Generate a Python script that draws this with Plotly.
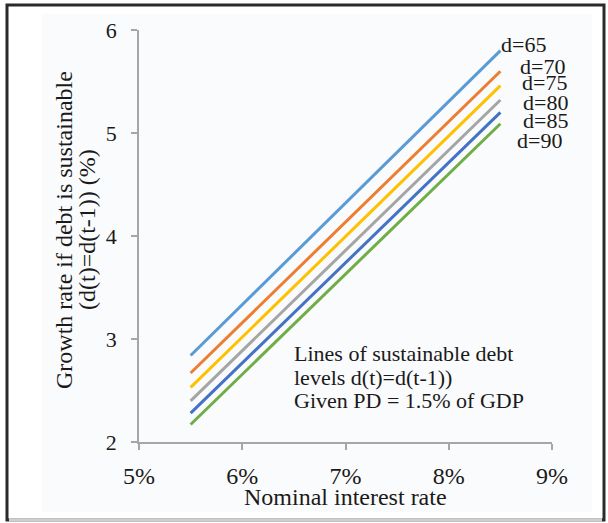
import plotly.graph_objects as go

# ---- data ----
interest_rate = [5.5, 8.5]  # nominal interest rate, %
debt_levels = ["d=65", "d=70", "d=75", "d=80", "d=85", "d=90"]
g_d65 = [2.84, 5.80]
g_d70 = [2.67, 5.60]
g_d75 = [2.53, 5.46]
g_d80 = [2.40, 5.32]
g_d85 = [2.28, 5.20]
g_d90 = [2.17, 5.09]
series = [g_d65, g_d70, g_d75, g_d80, g_d85, g_d90]
colors = ["#5B9BD5", "#ED7D31", "#FFC000", "#A5A5A5", "#4472C4", "#70AD47"]

x_ticks = [5, 6, 7, 8, 9]
x_tick_text = ["5%", "6%", "7%", "8%", "9%"]
y_ticks = [2, 3, 4, 5, 6]

label_pos = [(8.72, 5.86), (8.905, 5.65), (8.925, 5.49), (8.934, 5.30), (8.934, 5.12), (8.876, 4.93)]
note_lines = ["Lines of sustainable debt", "levels d(t)=d(t-1))", "Given PD = 1.5% of GDP"]
note_y = [2.86, 2.63, 2.40]

W, H = 608, 523
L, R, T, B = 139, 56, 30, 81
FONT = "Liberation Serif"
AX = "#A6A6A6"
TXT = "#1a1a1a"

fig = go.Figure()
for name, ys, c in zip(debt_levels, series, colors):
    fig.add_trace(go.Scatter(x=interest_rate, y=ys, mode="lines", name=name,
                             line=dict(color=c, width=3), showlegend=False,
                             hoverinfo="skip"))

ann = []
for name, (lx, ly) in zip(debt_levels, label_pos):
    ann.append(dict(x=lx, y=ly, xref="x", yref="y", text=name, showarrow=False,
                    font=dict(family=FONT, size=22, color=TXT),
                    xanchor="center", yanchor="middle"))
for t, ny in zip(note_lines, note_y):
    ann.append(dict(x=6.483, y=ny, xref="x", yref="y", text=t, showarrow=False,
                    font=dict(family=FONT, size=22, color=TXT),
                    xanchor="left", yanchor="middle"))

pw, ph = W - L - R, H - T - B
def px_x(p):
    return (p - L) / pw
def px_y(p):
    return (H - B - p) / ph

# axis titles
ann.append(dict(x=0.5, y=px_y(497), xref="paper", yref="paper", text="Nominal interest rate",
                showarrow=False, font=dict(family=FONT, size=24, color=TXT),
                xanchor="center", yanchor="middle"))
ann.append(dict(x=px_x(64), y=px_y(230), xref="paper", yref="paper",
                text="Growth rate if debt is sustainable", textangle=-90,
                showarrow=False, font=dict(family=FONT, size=24, color=TXT),
                xanchor="center", yanchor="middle"))
ann.append(dict(x=px_x(87), y=px_y(230), xref="paper", yref="paper",
                text="(d(t)=d(t-1)) (%)", textangle=-90,
                showarrow=False, font=dict(family=FONT, size=24, color=TXT),
                xanchor="center", yanchor="middle"))

shapes = [
    dict(type="rect", xref="paper", yref="paper", x0=px_x(42), x1=px_x(592),
         y0=px_y(512), y1=px_y(14), fillcolor="#FAFBFC", line=dict(width=0), layer="below"),
    dict(type="rect", xref="paper", yref="paper", x0=px_x(7), x1=px_x(604),
         y0=px_y(520), y1=px_y(5), line=dict(color="#2a2a2a", width=3),
         fillcolor="rgba(0,0,0,0)", layer="above"),
    dict(type="line", xref="paper", yref="paper", x0=px_x(9), x1=px_x(602),
         y0=px_y(520), y1=px_y(520), line=dict(color="#CFCFCF", width=3.5), layer="above"),
]

fig.update_layout(
    width=W, height=H,
    margin=dict(l=L, r=R, t=T, b=B, pad=0),
    paper_bgcolor="white", plot_bgcolor="rgba(0,0,0,0)",
    annotations=ann, shapes=shapes, hovermode=False,
    xaxis=dict(range=[5, 9], tickvals=x_ticks, ticktext=x_tick_text,
               showgrid=False, zeroline=False, showline=True, linecolor=AX, linewidth=1.5,
               ticks="outside", ticklen=6, tickcolor=AX, tickwidth=1.5,
               ticklabelstandoff=5,
               tickfont=dict(family=FONT, size=24, color=TXT)),
    yaxis=dict(range=[2, 6], tickvals=y_ticks,
               showgrid=False, zeroline=False, showline=True, linecolor=AX, linewidth=1.5,
               ticks="outside", ticklen=6, tickcolor=AX, tickwidth=1.5,
               ticklabelstandoff=10,
               tickfont=dict(family=FONT, size=22, color=TXT)),
)

fig.write_html("out.html", config={"displayModeBar": False},
               post_script="document.body.style.margin='0';document.body.style.padding='0';")
